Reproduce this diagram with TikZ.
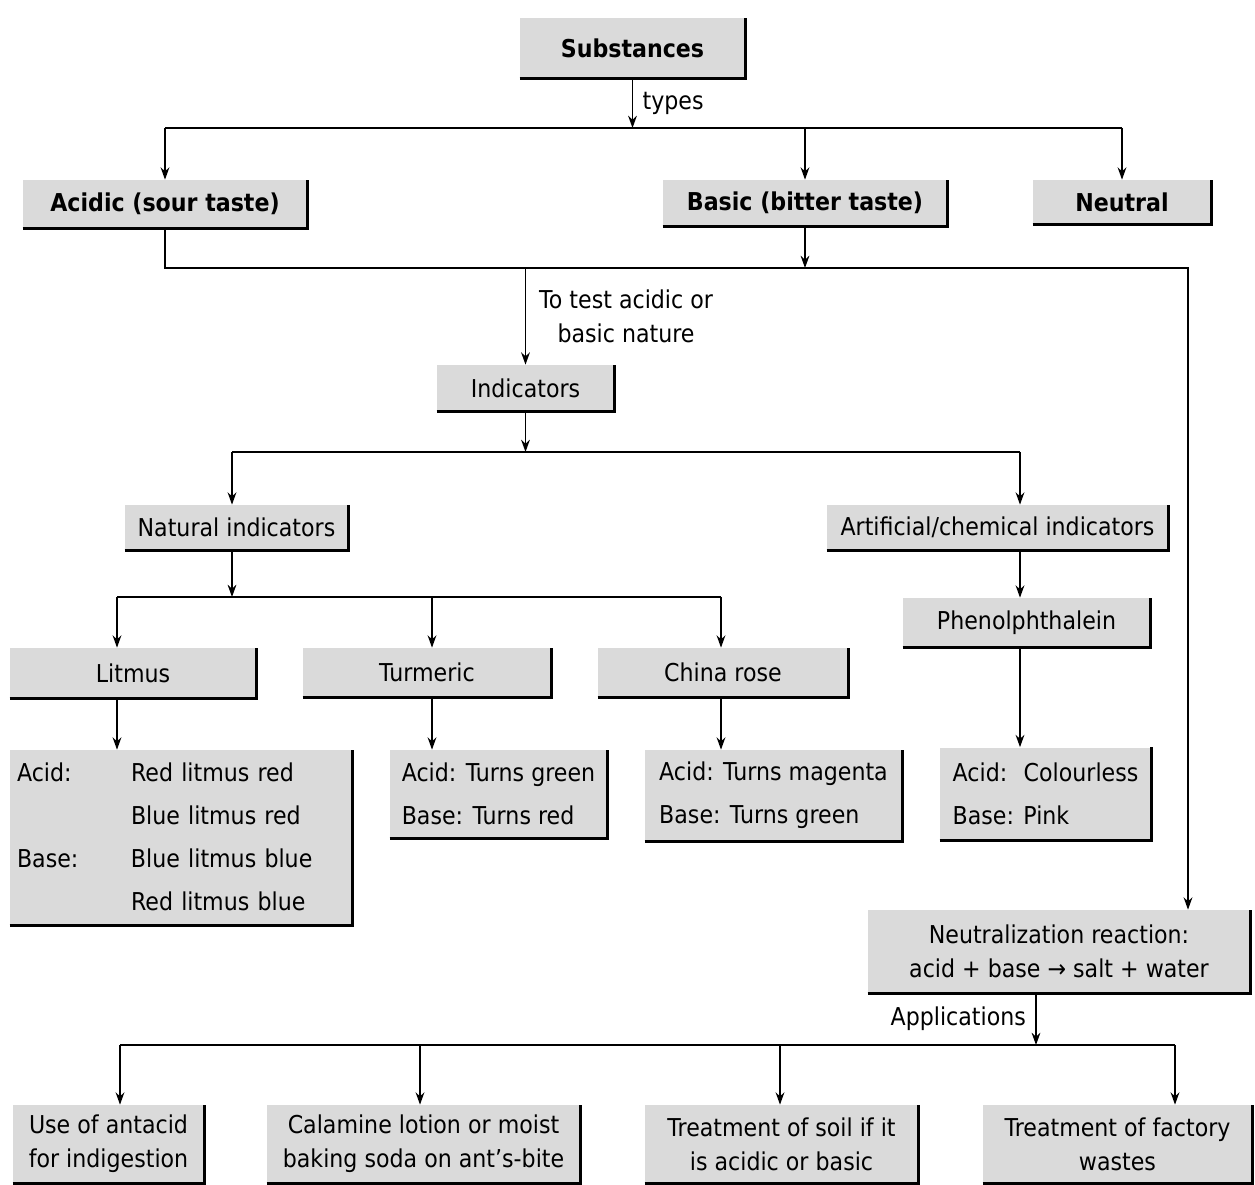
\documentclass[tikz,border=0pt]{standalone}
\usepackage{fontspec}
\setmainfont{DejaVu Sans}[FakeStretch=0.9]
\usepackage{tikz}
\usetikzlibrary{arrows.meta,positioning,calc}
\definecolor{boxgray}{RGB}{218,218,218}

\begin{document}
\begin{tikzpicture}[x=0.02cm, y=-0.02cm,
  font=\fontsize{14}{19.5}\selectfont,
  box/.style={fill=boxgray, align=center, inner sep=0pt},
  top/.style={box, font=\fontsize{14}{19.5}\selectfont\bfseries},
  detail/.style={box, align=left, font=\fontsize{14}{24.3}\selectfont},
  rim/.style={draw=black, line width=1.7pt},
  bus/.style={line width=0.85pt},
  ar/.style={bus, -{Stealth[length=7pt,width=5pt]}}]
\useasboundingbox (0,0) rectangle (1255,1185);

% --- top: substances and its three types
\node[top, minimum width=4.5cm, minimum height=1.2cm] (subs) at (632.5,48) {Substances};
\node[top, minimum width=5.68cm, minimum height=0.96cm] (acid) at (165,204) {Acidic (sour taste)};
\node[top, minimum width=5.68cm, minimum height=0.92cm] (basic) at (805,203) {Basic (bitter taste)};
\node[top, minimum width=3.56cm, minimum height=0.88cm] (neut) at (1122,202) {Neutral};

% --- indicators
\node[box, minimum width=3.54cm, minimum height=0.92cm] (ind) at (525.5,388) {Indicators};
\node[box, minimum width=4.46cm, minimum height=0.9cm] (nat) at (236.5,527.5) {Natural indicators};
\node[box, minimum width=6.82cm, minimum height=0.9cm] (art) at (997.5,527.5) {Artificial/chemical indicators};
\node[box, minimum width=4.94cm, minimum height=0.98cm] (phen) at (1026.5,622.5) {Phenolphthalein};
\node[box, minimum width=4.92cm, minimum height=1cm] (lit) at (133,673) {Litmus};
\node[box, minimum width=4.96cm, minimum height=0.98cm] (turm) at (427,672.5) {Turmeric};
\node[box, minimum width=5cm, minimum height=0.98cm] (china) at (723,672.5) {China rose};

% --- colour changes
\node[detail, minimum width=6.84cm, minimum height=3.5cm, inner xsep=0.14cm,
  text width=6.56cm] (litd) at (181,837.5)
  {\begin{tabular}{@{}p{2.28cm}@{}l@{}}
   Acid: & Red litmus red\\
         & Blue litmus red\\
   Base: & Blue litmus blue\\
         & Red litmus blue
   \end{tabular}};
\node[detail, minimum width=4.34cm, minimum height=1.76cm] (turd) at (498.5,794)
  {Acid: Turns green\\Base: Turns red};
\node[detail, minimum width=5.14cm, minimum height=1.82cm] (chid) at (773.5,795.5)
  {Acid: Turns magenta\\Base: Turns green};
\node[detail, minimum width=4.22cm, minimum height=1.86cm] (phd) at (1045.5,794)
  {Acid:~ Colourless\\Base: Pink};

% --- neutralization and its uses
\node[box, minimum width=7.64cm, minimum height=1.66cm] (neutr) at (1059,951.5)
  {Neutralization reaction:\\acid + base → salt + water};
\node[box, minimum width=3.82cm, minimum height=1.56cm] (app1) at (108.5,1144)
  {Use of antacid\\for indigestion};
\node[box, minimum width=6.26cm, minimum height=1.56cm] (app2) at (423.5,1144)
  {Calamine lotion or moist\\baking soda on ant’s-bite};
\node[box, minimum width=5.46cm, minimum height=1.56cm] (app3) at (781.5,1144)
  {Treatment of soil if it\\is acidic or basic};
\node[box, minimum width=5.38cm, minimum height=1.56cm] (app4) at (1117.5,1144)
  {Treatment of factory\\wastes};

\foreach \n in {subs,acid,basic,neut,ind,nat,art,phen,lit,turm,china,
                litd,turd,chid,phd,neutr,app1,app2,app3,app4}
  \draw[rim] (\n.south west) -| (\n.north east);

% --- bus points
\coordinate (typesbus) at (632.5,128);
\coordinate (testbus) at (525.5,268);
\coordinate (neutbus) at (1188,268);
\coordinate (natdrop) at (232,452);
\coordinate (artdrop) at (1020,452);
\coordinate (litdrop) at (117,597);
\coordinate (turdrop) at (432,597);
\coordinate (chdrop) at (721,597);
\coordinate (appbus) at (1036,1045);
\coordinate (app1drop) at (120,1045);
\coordinate (app2drop) at (420,1045);
\coordinate (app3drop) at (780,1045);
\coordinate (app4drop) at (1175,1045);

\draw[ar] (subs.south) -- node[right, xshift=2pt] {types} (typesbus);
\draw[bus] (typesbus -| acid.north) -- (typesbus -| neut.north);
\draw[ar] (typesbus -| acid.north) -- (acid.north);
\draw[ar] (typesbus -| basic.north) -- (basic.north);
\draw[ar] (typesbus -| neut.north) -- (neut.north);

\draw[ar] (acid.south) |- (neutbus) -- (neutbus |- neutr.north);
\draw[ar] (basic.south) -- (basic.south |- testbus);
\draw[ar] (testbus) -- node[right, xshift=4pt, align=center] {To test acidic or\\basic nature} (ind.north);

\draw[ar] (ind.south) -- (ind.south |- natdrop);
\draw[bus] (natdrop) -- (artdrop);
\draw[ar] (natdrop) -- (natdrop |- nat.north);
\draw[ar] (artdrop) -- (artdrop |- art.north);
\draw[ar] (artdrop |- art.south) -- (artdrop |- phen.north);
\draw[ar] (artdrop |- phen.south) -- (artdrop |- phd.north);

\draw[ar] (natdrop |- nat.south) -- (natdrop |- litdrop);
\draw[bus] (litdrop) -- (chdrop);
\draw[ar] (litdrop) -- (litdrop |- lit.north);
\draw[ar] (turdrop) -- (turdrop |- turm.north);
\draw[ar] (chdrop) -- (chdrop |- china.north);
\draw[ar] (litdrop |- lit.south) -- (litdrop |- litd.north);
\draw[ar] (turdrop |- turm.south) -- (turdrop |- turd.north);
\draw[ar] (chdrop |- china.south) -- (chdrop |- chid.north);

\draw[ar] (appbus |- neutr.south) -- node[left, xshift=-2pt] {Applications} (appbus);
\draw[bus] (app1drop) -- (app4drop);
\draw[ar] (app1drop) -- (app1drop |- app1.north);
\draw[ar] (app2drop) -- (app2drop |- app2.north);
\draw[ar] (app3drop) -- (app3drop |- app3.north);
\draw[ar] (app4drop) -- (app4drop |- app4.north);
\end{tikzpicture}
\end{document}
